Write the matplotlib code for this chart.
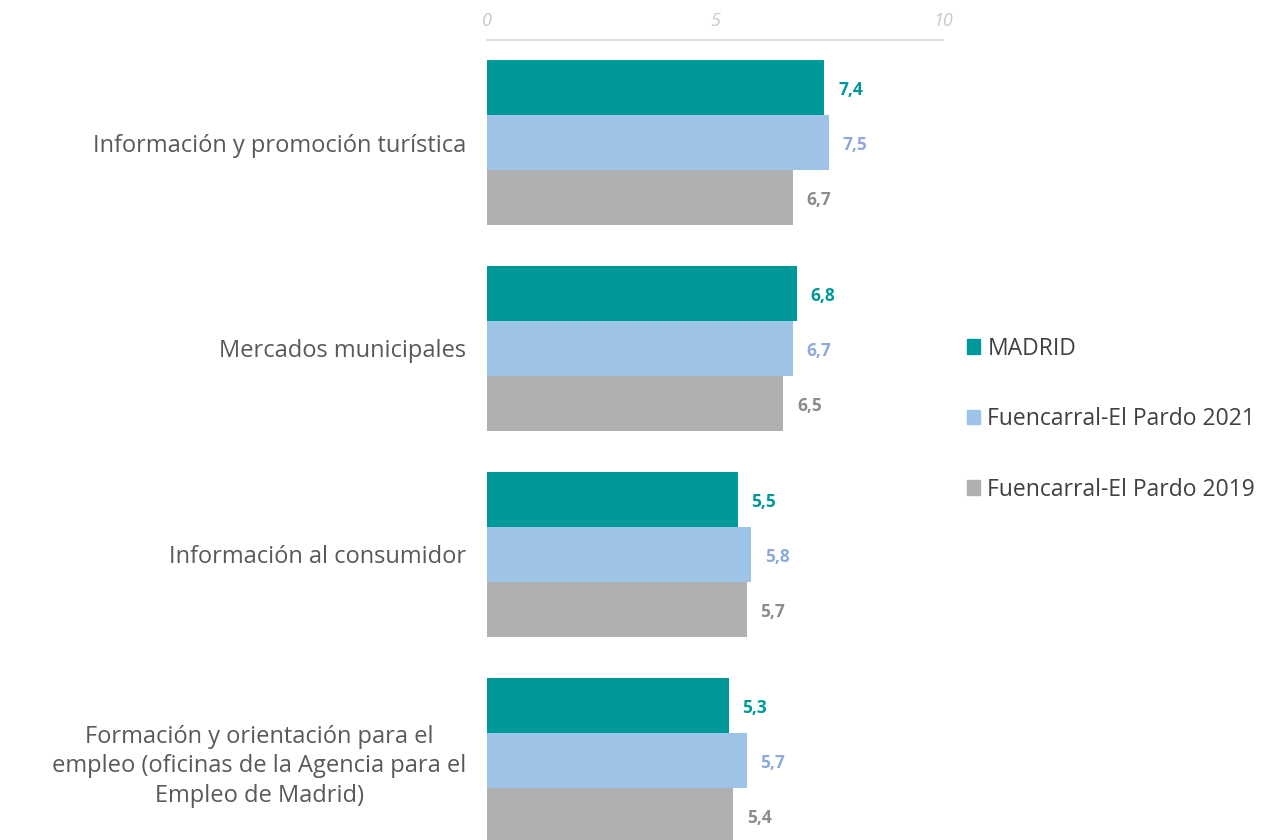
import numpy as np
import matplotlib
matplotlib.use("Agg")
import matplotlib.pyplot as plt
from matplotlib.patches import Patch

plt.rcParams['font.family'] = ['Open Sans', 'DejaVu Sans']

# datos
categorias = ["Información y promoción turística",
              "Mercados municipales",
              "Información al consumidor",
              "Formación y orientación para el\nempleo (oficinas de la Agencia para el\nEmpleo de Madrid)"]
series = ["MADRID", "Fuencarral-El Pardo 2021", "Fuencarral-El Pardo 2019"]
madrid = [7.4, 6.8, 5.5, 5.3]
fuenc_2021 = [7.5, 6.7, 5.8, 5.7]
fuenc_2019 = [6.7, 6.5, 5.7, 5.4]
ticks = [0, 5, 10]

colores_barra = ["#009999", "#9dc3e6", "#b0b0b0"]
colores_texto = ["#009999", "#8eaadb", "#8c8c8c"]

fig = plt.figure(figsize=(12.7, 8.4), dpi=100)
ax = fig.add_axes([487/1270, 0, 456/1270, 1 - 40/840])

y = np.arange(len(categorias))
h = 55/206
valores = [madrid, fuenc_2021, fuenc_2019]
for i, vals in enumerate(valores):
    pos = y + (i - 1) * h
    ax.barh(pos, vals, height=h, color=colores_barra[i], label=series[i])
    for p, v in zip(pos, vals):
        ax.text(v + 0.3, p + 0.01, f"{v:.1f}".replace(".", ","), va="center", ha="left",
                fontsize=12.5, fontweight="bold", color=colores_texto[i])

ax.set_xlim(0, 10)
ax.set_ylim(3.386, -0.4976)
ax.xaxis.tick_top()
ax.set_xticks(ticks)
ax.set_xticklabels([str(t) for t in ticks], fontstyle="italic", color="#c8c8c8")
ax.tick_params(axis="x", length=0, pad=7, labelsize=13)
ax.set_yticks(y)
ax.set_yticklabels(categorias, fontsize=17, color="#595959", linespacing=1.3)
ax.tick_params(axis="y", length=0, pad=15)
for lab in ax.get_yticklabels():
    lab.set_multialignment("center")

for s in ["bottom", "left", "right"]:
    ax.spines[s].set_visible(False)
ax.spines["top"].set_color("#d9d9d9")
ax.spines["top"].set_linewidth(1.2)

handles = [Patch(color=c) for c in colores_barra]
fig.legend(handles, series, loc="upper left", bbox_to_anchor=(946/1270, 1 - 316/840),
           frameon=False, fontsize=16.5, labelcolor="#404040", handlelength=0.6,
           handleheight=0.6, handletextpad=0.3, labelspacing=2.03)

fig.savefig("out.png", dpi=100)
